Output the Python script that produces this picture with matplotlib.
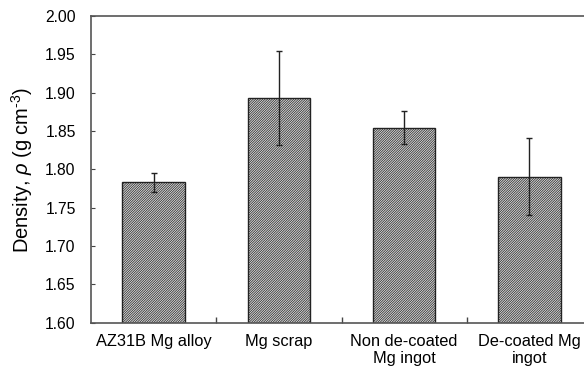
import matplotlib
matplotlib.use("Agg")
import matplotlib.pyplot as plt
import numpy as np

categories = ["AZ31B Mg alloy", "Mg scrap", "Non de-coated\nMg ingot", "De-coated Mg\ningot"]
density = [1.783, 1.893, 1.854, 1.790]
err_up = [0.012, 0.062, 0.022, 0.051]
err_down = [0.012, 0.061, 0.021, 0.050]
yticks = [1.60, 1.65, 1.70, 1.75, 1.80, 1.85, 1.90, 1.95, 2.00]

plt.rcParams['font.family'] = ['Liberation Sans', 'DejaVu Sans']
plt.rcParams['mathtext.fontset'] = 'custom'
plt.rcParams['mathtext.rm'] = 'Liberation Sans'
plt.rcParams['mathtext.it'] = 'Liberation Sans:italic'
plt.rcParams['hatch.linewidth'] = 0.5
plt.rcParams['hatch.color'] = '#9c9c9c'

fig = plt.figure(figsize=(5.84, 3.69), dpi=100)
W, H = 584, 369
left, right = 91, 592
top, bottom = 16, 322.7
ax = fig.add_axes([left / W, 1 - bottom / H, (right - left) / W, (bottom - top) / H])

x = np.arange(len(categories))
ax.bar(x, density, width=0.5, color='#d8d8d8', edgecolor='#222222', linewidth=1.0,
       hatch='/' * 14, zorder=2)
ax.errorbar(x, density, yerr=[err_down, err_up], fmt='none', ecolor='#222222',
            elinewidth=1.0, capsize=2.5, capthick=1.0, zorder=3)

ax.set_xlim(-0.5, 3.5)
ax.set_ylim(1.60, 2.00)
ax.set_yticks(yticks)
ax.set_yticklabels([f"{v:.2f}" for v in yticks], fontsize=11.3)
ax.set_xticks(x)
ax.set_xticklabels(categories, fontsize=11.8, linespacing=1.15)
ax.tick_params(axis='x', length=0, pad=8)
ax.set_xticks([0.5, 1.5, 2.5], minor=True)
ax.tick_params(axis='x', which='minor', direction='in', length=4, width=1.0, color='#444444')
ax.tick_params(axis='y', direction='in', length=3, width=0.8, color='#444444', pad=11)
for s in ['left', 'top', 'bottom', 'right']:
    ax.spines[s].set_color('#555555')
    ax.spines[s].set_linewidth(1.2)

ax.set_ylabel(r"Density, $\rho$ (g cm${}^{\text{-}3}$)", fontsize=14.5, labelpad=7)

fig.savefig("out.png", dpi=100)
